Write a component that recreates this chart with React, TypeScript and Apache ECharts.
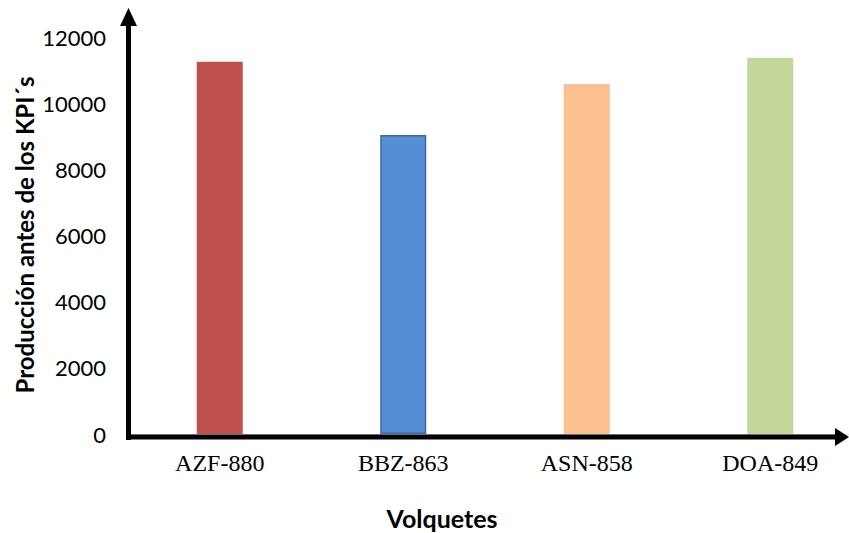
import React, { useEffect, useRef } from "react";
import * as echarts from "echarts";

const categories = ["AZF-880", "BBZ-863", "ASN-858", "DOA-849"];
const production = [11250, 9040, 10580, 11370];
const barColors = ["#C0504D", "#558ED5", "#FAC090", "#C3D69B"];
const yTicks = { min: 0, max: 12000, interval: 2000 };
const yTitle = "Producción antes de los KPI´s";
const xTitle = "Volquetes";

export default function App() {
  const ref = useRef<HTMLDivElement>(null);
  useEffect(() => {
    if (!ref.current) return;
    const chart = echarts.init(ref.current, null, { renderer: "svg" });
    chart.setOption({
      animation: false,
      grid: { left: 128, top: 37, width: 734, height: 397 },
      xAxis: {
        type: "category",
        data: categories,
        boundaryGap: true,
        axisLine: { show: true, lineStyle: { color: "#d9d9d9", width: 1 } },
        axisTick: { show: false },
        axisLabel: {
          color: "#000",
          fontFamily: "Liberation Serif",
          fontSize: 24,
          margin: 17,
        },
      },
      yAxis: {
        type: "value",
        min: yTicks.min,
        max: yTicks.max,
        interval: yTicks.interval,
        axisLine: { show: false },
        axisTick: { show: false },
        splitLine: { show: false },
        axisLabel: {
          color: "#000",
          fontFamily: "Lato",
          fontSize: 22,
          margin: 22,
          formatter: (v: number) => String(v),
        },
      },
      series: [
        {
          type: "bar",
          barWidth: 46,
          data: production.map((v, i) => ({
            value: v,
            itemStyle: {
              color: barColors[i],
              borderColor: i === 1 ? "#3A6AA8" : barColors[i],
              borderWidth: i === 1 ? 1.5 : 0,
            },
          })),
        },
      ],
      graphic: [
        {
          type: "line",
          shape: { x1: 128.5, y1: 440, x2: 128.5, y2: 22 },
          style: { stroke: "#000", lineWidth: 5 },
          z: 100,
        },
        {
          type: "polygon",
          shape: { points: [[120, 26], [137, 26], [128.5, 8]] },
          style: { fill: "#000" },
          z: 100,
        },
        {
          type: "line",
          shape: { x1: 126, y1: 437, x2: 838, y2: 437 },
          style: { stroke: "#000", lineWidth: 5 },
          z: 100,
        },
        {
          type: "polygon",
          shape: { points: [[835, 428], [835, 446], [849, 437]] },
          style: { fill: "#000" },
          z: 100,
        },
        {
          type: "text",
          x: 24,
          y: 235,
          rotation: Math.PI / 2,
          style: {
            text: yTitle,
            fontFamily: "Lato",
            fontWeight: "bold",
            fontSize: 24,
            fill: "#000",
            align: "center",
            verticalAlign: "middle",
          },
        },
        {
          type: "text",
          x: 442,
          y: 518,
          style: {
            text: xTitle,
            fontFamily: "Lato",
            fontWeight: "bold",
            fontSize: 25,
            fill: "#000",
            align: "center",
            verticalAlign: "middle",
          },
        },
      ],
    });
    return () => chart.dispose();
  }, []);
  return (
    <div style={{ width: 849, height: 533, position: "absolute", left: 0, top: 0, overflow: "hidden" }}>
      <div ref={ref} style={{ width: 880, height: 533 }} />
    </div>
  );
}
